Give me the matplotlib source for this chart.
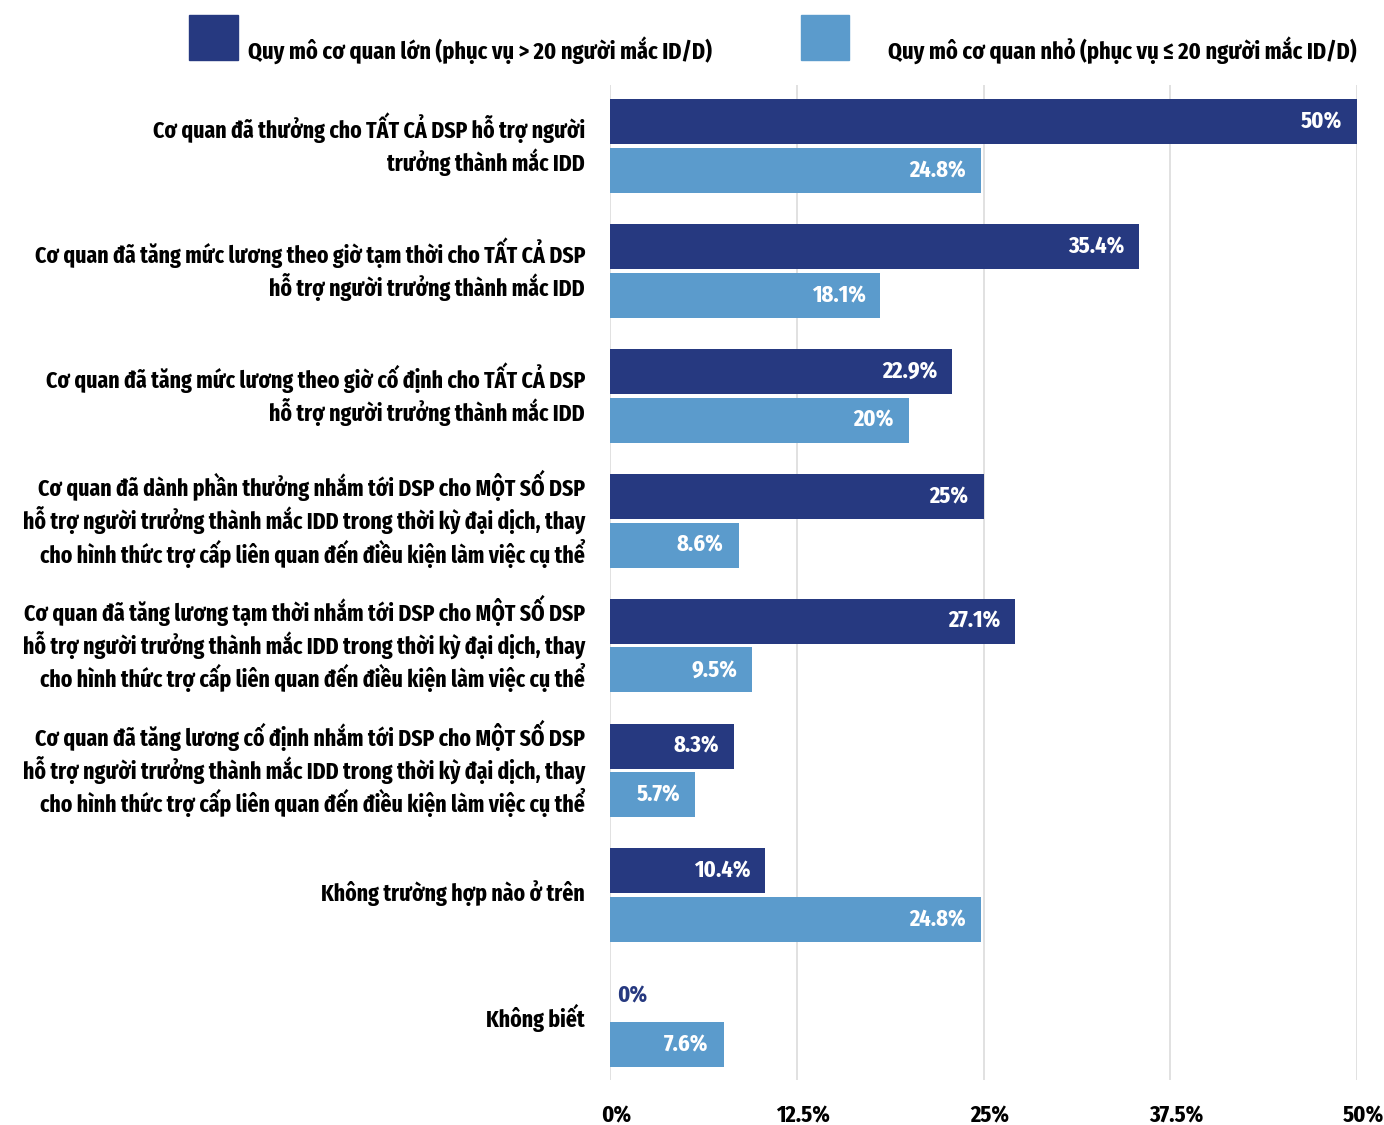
import matplotlib.pyplot as plt
import matplotlib.transforms as mtransforms
import numpy as np

FONT = ["Fira Sans Extra Condensed", "DejaVu Sans"]
plt.rcParams["font.family"] = FONT
plt.rcParams["font.weight"] = "bold"

DARK = "#263980"
LIGHT = "#5b9bcc"
FS = 17
VAL_FS = 17.5

categories = [
    "Cơ quan đã thưởng cho TẤT CẢ DSP hỗ trợ người\ntrưởng thành mắc IDD",
    "Cơ quan đã tăng mức lương theo giờ tạm thời cho TẤT CẢ DSP\nhỗ trợ người trưởng thành mắc IDD",
    "Cơ quan đã tăng mức lương theo giờ cố định cho TẤT CẢ DSP\nhỗ trợ người trưởng thành mắc IDD",
    "Cơ quan đã dành phần thưởng nhắm tới DSP cho MỘT SỐ DSP\nhỗ trợ người trưởng thành mắc IDD trong thời kỳ đại dịch, thay\ncho hình thức trợ cấp liên quan đến điều kiện làm việc cụ thể",
    "Cơ quan đã tăng lương tạm thời nhắm tới DSP cho MỘT SỐ DSP\nhỗ trợ người trưởng thành mắc IDD trong thời kỳ đại dịch, thay\ncho hình thức trợ cấp liên quan đến điều kiện làm việc cụ thể",
    "Cơ quan đã tăng lương cố định nhắm tới DSP cho MỘT SỐ DSP\nhỗ trợ người trưởng thành mắc IDD trong thời kỳ đại dịch, thay\ncho hình thức trợ cấp liên quan đến điều kiện làm việc cụ thể",
    "Không trường hợp nào ở trên",
    "Không biết",
]
large = [50, 35.4, 22.9, 25, 27.1, 8.3, 10.4, 0]
small = [24.8, 18.1, 20, 8.6, 9.5, 5.7, 24.8, 7.6]
series_names = [
    "Quy mô cơ quan lớn (phục vụ > 20 người mắc ID/D)",
    "Quy mô cơ quan nhỏ (phục vụ ≤ 20 người mắc ID/D)",
]
xticks = [0, 12.5, 25, 37.5, 50]

fig = plt.figure(figsize=(13.84, 11.25), dpi=100)
ax = fig.add_axes([0.4408, 0.04, 0.5397, 0.8844])

y = np.arange(len(categories))
h = 0.36
off = 0.195
ax.barh(y - off, large, height=h, color=DARK, zorder=2)
ax.barh(y + off, small, height=h, color=LIGHT, zorder=2)


def fmt(v):
    return f"{v:g}%"


for yi, v in zip(y - off, large):
    if v > 3:
        ax.text(v - 1.0, yi, fmt(v), color="white", ha="right", va="center",
                fontsize=VAL_FS, fontweight="bold")
    else:
        ax.text(v + 0.45, yi, fmt(v), color=DARK, ha="left", va="center",
                fontsize=VAL_FS, fontweight="bold")
for yi, v in zip(y + off, small):
    ax.text(v - 1.0, yi, fmt(v), color="white", ha="right", va="center",
            fontsize=VAL_FS, fontweight="bold")

ax.set_xlim(0, 50)
ax.set_ylim(7.48, -0.49)
for xt in xticks:
    ax.axvline(xt, color="#dcdcdc", lw=1.2, zorder=1)
ax.set_xticks([])
ax.set_yticks([])
for s in ax.spines.values():
    s.set_visible(False)

# x tick labels, placed a little right of their grid lines
xlab_tr = mtransforms.offset_copy(ax.get_xaxis_transform(), fig=fig,
                                  x=6, y=-36, units="dots")
for xt in xticks:
    ax.text(xt, 0, fmt(xt), transform=xlab_tr, ha="center", va="center",
            fontsize=VAL_FS, fontweight="bold", clip_on=False)

# category labels to the left of the axes
ylab_tr = mtransforms.offset_copy(ax.get_yaxis_transform(), fig=fig,
                                  x=-25, y=2, units="dots")
for yi, cat in zip(y, categories):
    ax.text(0, yi, cat, transform=ylab_tr, ha="right", va="center",
            multialignment="right", fontsize=FS, fontweight="bold",
            linespacing=1.2, clip_on=False)

# legend drawn by hand at the top
fig.patches.append(plt.Rectangle((189 / 1384, 1 - 60 / 1125), 49 / 1384, 45 / 1125,
                                 transform=fig.transFigure, color=DARK))
fig.patches.append(plt.Rectangle((801 / 1384, 1 - 60 / 1125), 48 / 1384, 45 / 1125,
                                 transform=fig.transFigure, color=LIGHT))
fig.text(248 / 1384, 1 - 50 / 1125, series_names[0], fontsize=FS + 0.5,
         fontweight="bold", va="center", ha="left")
fig.text(1357 / 1384, 1 - 50 / 1125, series_names[1], fontsize=FS + 0.5,
         fontweight="bold", va="center", ha="right")

fig.savefig("out.png", dpi=100, facecolor="white")
